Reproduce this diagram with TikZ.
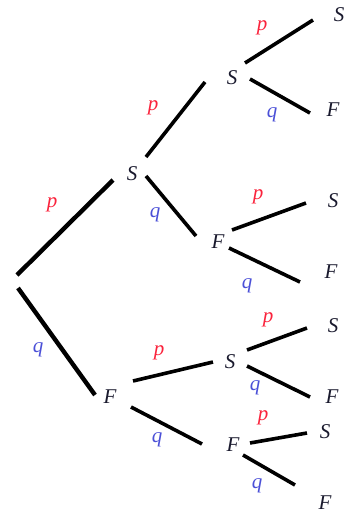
\documentclass[tikz,border=0pt]{standalone}
\usepackage{fontspec}
\setmainfont{Liberation Serif}
\definecolor{pcol}{RGB}{250,35,60}
\definecolor{qcol}{RGB}{75,80,215}
\definecolor{tcol}{RGB}{25,25,45}
\begin{document}
\begin{tikzpicture}[x=1pt,y=-1pt,
  state/.style={inner sep=0pt,text=tcol,font=\fontsize{21}{21}\selectfont\itshape},
  plab/.style={inner sep=0pt,text=pcol,font=\fontsize{21}{21}\selectfont\itshape},
  qlab/.style={inner sep=0pt,text=qcol,font=\fontsize{21}{21}\selectfont\itshape},
  branch/.style={line width=3.6pt,black},
  trunk/.style={line width=4.4pt,black}]
\useasboundingbox (0,0) rectangle (344,515);
\clip (0,0) rectangle (344,515);
% states
\coordinate (root) at (17,281);
\node[state] (A) at (132,174) {S};
\node[state] (B) at (110,397) {F};
\node[state] (AA) at (232,78) {S};
\node[state] (AB) at (218,242) {F};
\node[state] (BA) at (230,362) {S};
\node[state] (BB) at (233,445) {F};
\node[state] (AAA) at (339,15) {S};
\node[state] (AAB) at (333,110) {F};
\node[state] (ABA) at (333,201) {S};
\node[state] (ABB) at (331,272) {F};
\node[state] (BAA) at (333,326) {S};
\node[state] (BAB) at (332,397) {F};
\node[state] (BBA) at (325,432) {S};
\node[state] (BBB) at (325,503) {F};
% branches
\draw[trunk] ([shift={(0,-6)}]root) -- ([shift={(-19,6)}]A.center);
\draw[trunk] ([shift={(1,7)}]root) -- ([shift={(-15,-2)}]B.center);
\draw[branch] ([shift={(14,-17)}]A.center) -- ([shift={(-27,4)}]AA.center);
\draw[branch] ([shift={(14,2)}]A.center) -- ([shift={(-22,-6)}]AB.center);
\draw[branch] ([shift={(13,-15)}]AA.center) -- ([shift={(-26,5)}]AAA.center);
\draw[branch] ([shift={(18,1)}]AA.center) -- ([shift={(-23,3)}]AAB.center);
\draw[branch] ([shift={(14,-12)}]AB.center) -- ([shift={(-27,2)}]ABA.center);
\draw[branch] ([shift={(11,6)}]AB.center) -- ([shift={(-31,10)}]ABB.center);
\draw[branch] ([shift={(23,-16)}]B.center) -- ([shift={(-17,0)}]BA.center);
\draw[branch] ([shift={(21,10)}]B.center) -- ([shift={(-31,-1)}]BB.center);
\draw[branch] ([shift={(17,-12)}]BA.center) -- ([shift={(-26,2)}]BAA.center);
\draw[branch] ([shift={(17,4)}]BA.center) -- ([shift={(-22,0)}]BAB.center);
\draw[branch] ([shift={(17,-2)}]BB.center) -- ([shift={(-18,1)}]BBA.center);
\draw[branch] ([shift={(10,10)}]BB.center) -- ([shift={(-30,-18)}]BBB.center);
% probability labels
\node[plab] (p1) at (52,205) {p};
\node[qlab] (q1) at (38,350) {q};
\node[plab] (p2) at (153,108) {p};
\node[qlab] (q2) at (155,215) {q};
\node[plab] (p3) at (262,28) {p};
\node[qlab] (q3) at (272,115) {q};
\node[plab] (p4) at (258,197) {p};
\node[qlab] (q4) at (247,286) {q};
\node[plab] (p5) at (159,353) {p};
\node[qlab] (q5) at (157,440) {q};
\node[plab] (p6) at (268,320) {p};
\node[qlab] (q6) at (255,388) {q};
\node[plab] (p7) at (263,418) {p};
\node[qlab] (q7) at (257,486) {q};
\end{tikzpicture}
\end{document}
